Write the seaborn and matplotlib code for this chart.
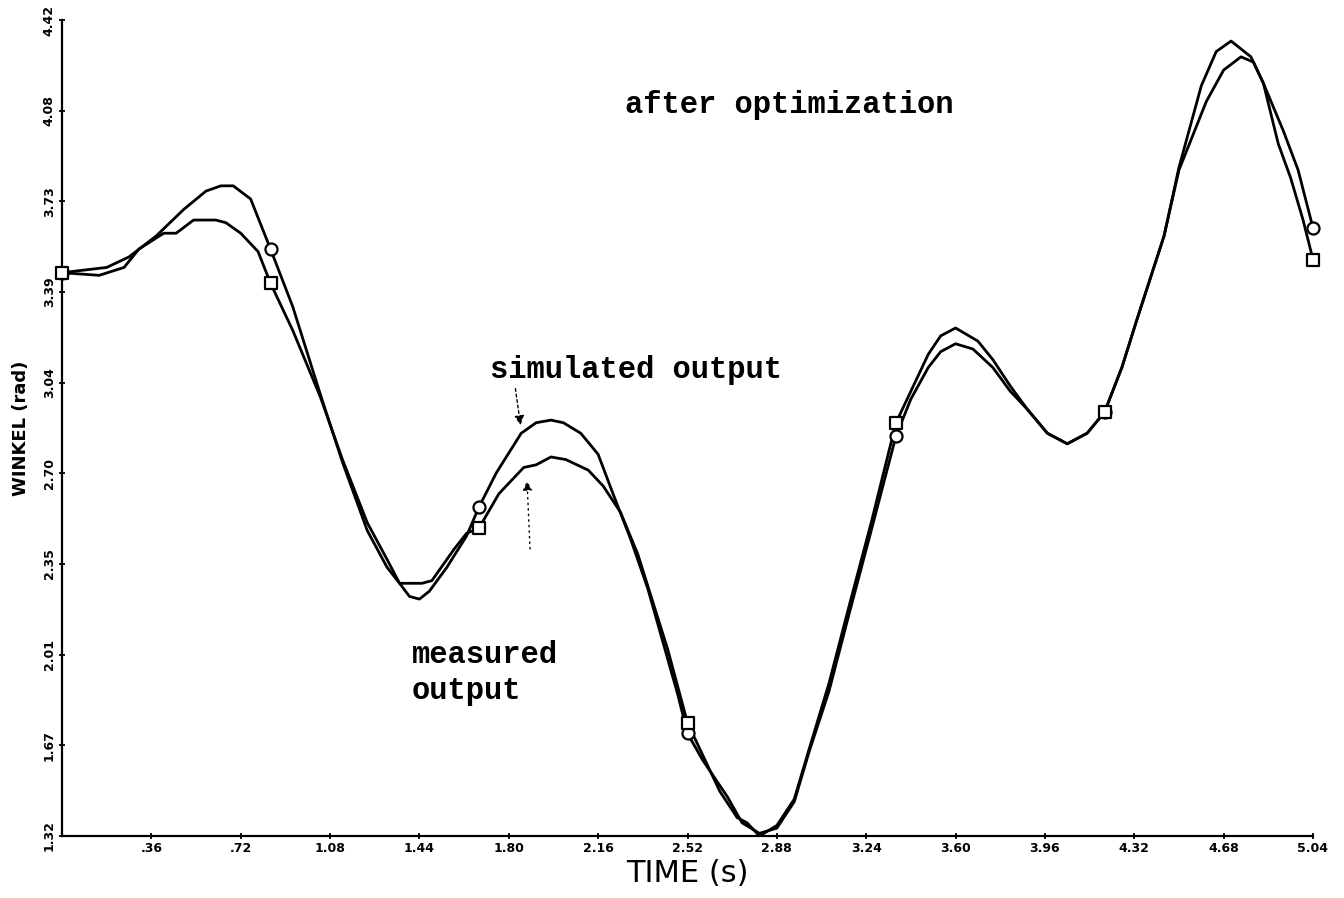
import numpy as np
import pandas as pd
import matplotlib
matplotlib.use("Agg")
import matplotlib.pyplot as plt
import seaborn as sns

# ---------------- data ----------------
sim_t = [0.00, 0.18, 0.27, 0.38, 0.49, 0.58, 0.64, 0.69, 0.76, 0.84,
         0.93, 1.04, 1.13, 1.23, 1.31, 1.36, 1.40, 1.44, 1.48, 1.55,
         1.63, 1.68, 1.75, 1.85, 1.91, 1.97, 2.02, 2.09, 2.16, 2.22,
         2.29, 2.36, 2.42, 2.48, 2.52, 2.58, 2.68, 2.74, 2.81, 2.88,
         2.95, 3.01, 3.09, 3.17, 3.26, 3.36, 3.42, 3.49, 3.54, 3.60,
         3.67, 3.75, 3.82, 3.89, 3.97, 4.05, 4.13, 4.20, 4.27, 4.33,
         4.44, 4.50, 4.61, 4.68, 4.75, 4.80, 4.84, 4.92, 4.98, 5.04]
sim_v = [3.46, 3.48, 3.52, 3.60, 3.70, 3.77, 3.79, 3.79, 3.74, 3.55,
         3.33, 3.00, 2.74, 2.48, 2.34, 2.28, 2.23, 2.22, 2.25, 2.34,
         2.46, 2.57, 2.70, 2.85, 2.89, 2.90, 2.89, 2.85, 2.77, 2.62,
         2.45, 2.26, 2.06, 1.86, 1.71, 1.61, 1.47, 1.37, 1.33, 1.35,
         1.45, 1.64, 1.87, 2.16, 2.48, 2.84, 2.98, 3.10, 3.16, 3.19,
         3.17, 3.10, 3.01, 2.94, 2.85, 2.81, 2.85, 2.93, 3.10, 3.28,
         3.60, 3.85, 4.11, 4.23, 4.28, 4.26, 4.18, 4.00, 3.85, 3.63]

meas_t = [0.00, 0.15, 0.25, 0.31, 0.41, 0.46, 0.53, 0.62, 0.66, 0.72,
          0.79, 0.84, 0.93, 1.04, 1.13, 1.23, 1.31, 1.36, 1.45, 1.49,
          1.58, 1.63, 1.68, 1.76, 1.86, 1.91, 1.97, 2.03, 2.12, 2.18,
          2.25, 2.32, 2.38, 2.44, 2.48, 2.52, 2.65, 2.72, 2.76, 2.78,
          2.81, 2.88, 2.95, 3.01, 3.09, 3.17, 3.26, 3.36, 3.42, 3.49,
          3.54, 3.60, 3.69, 3.75, 3.82, 3.89, 3.97, 4.05, 4.13, 4.20,
          4.27, 4.33, 4.44, 4.50, 4.59, 4.65, 4.71, 4.79, 4.84, 4.90,
          4.95, 5.00, 5.04]
meas_v = [3.46, 3.45, 3.48, 3.55, 3.61, 3.61, 3.66, 3.66, 3.65, 3.61,
          3.54, 3.42, 3.24, 2.99, 2.75, 2.51, 2.37, 2.28, 2.28, 2.29,
          2.41, 2.47, 2.49, 2.62, 2.72, 2.73, 2.76, 2.75, 2.71, 2.65,
          2.55, 2.39, 2.21, 2.03, 1.89, 1.75, 1.49, 1.39, 1.37, 1.35,
          1.32, 1.36, 1.46, 1.65, 1.90, 2.19, 2.51, 2.89, 3.01, 3.15,
          3.22, 3.25, 3.20, 3.13, 3.03, 2.94, 2.85, 2.81, 2.85, 2.93,
          3.10, 3.28, 3.60, 3.86, 4.17, 4.30, 4.34, 4.28, 4.18, 3.95,
          3.82, 3.66, 3.51]

marker_t = [0.00, 0.84, 1.68, 2.52, 3.36, 4.20, 5.04]
sim_marker_v = [3.46, 3.55, 2.57, 1.71, 2.84, 2.93, 3.63]
meas_marker_v = [3.46, 3.42, 2.49, 1.75, 2.89, 2.93, 3.51]

x_tick_labels = [".36", ".72", "1.08", "1.44", "1.80", "2.16", "2.52",
                 "2.88", "3.24", "3.60", "3.96", "4.32", "4.68", "5.04"]
y_tick_labels = ["1.32", "1.67", "2.01", "2.35", "2.70", "3.04",
                 "3.39", "3.73", "4.08", "4.42"]

x_label = "TIME (s)"
y_label = "WINKEL (rad)"
title_text = "after optimization"
sim_text = "simulated output"
meas_text = "measured\noutput"

# ---------------- figure ----------------
sns.set_style("ticks")
plt.rcParams["font.family"] = ["DejaVu Sans"]
for key in ["text.color", "axes.labelcolor", "xtick.color", "ytick.color",
            "axes.edgecolor"]:
    plt.rcParams[key] = "black"

fig = plt.figure(figsize=(13.44, 8.98), dpi=100)
ax = fig.add_axes([62 / 1344, 62 / 898, (1313 - 62) / 1344, (836 - 20) / 898])

sim_df = pd.DataFrame({"t": sim_t, "v": sim_v})
meas_df = pd.DataFrame({"t": meas_t, "v": meas_v})

sns.lineplot(data=sim_df, x="t", y="v", ax=ax, color="black", lw=2.0,
             sort=False, estimator=None, solid_joinstyle="round")
sns.lineplot(data=meas_df, x="t", y="v", ax=ax, color="black", lw=2.0,
             sort=False, estimator=None, solid_joinstyle="round")

sns.scatterplot(x=marker_t, y=sim_marker_v, ax=ax, marker="o", s=75,
                facecolor="white", edgecolor="black", linewidth=1.6,
                zorder=5, clip_on=False)
sns.scatterplot(x=marker_t, y=meas_marker_v, ax=ax, marker="s", s=65,
                facecolor="white", edgecolor="black", linewidth=1.6,
                zorder=5, clip_on=False)

ax.set_xlim(0, 5.04)
ax.set_ylim(1.32, 4.42)

xt = np.arange(1, len(x_tick_labels) + 1) * 0.36
ax.set_xticks(xt)
ax.set_xticklabels(x_tick_labels, fontsize=9, fontweight="bold")
yt = np.linspace(1.32, 4.42, len(y_tick_labels))
ax.set_yticks(yt)
ax.set_yticklabels(y_tick_labels, fontsize=9, fontweight="bold",
                   rotation=90, va="center")
ax.tick_params(axis="both", direction="inout", length=5, width=1.3,
               color="black", pad=2)

for side in ["top", "right"]:
    ax.spines[side].set_visible(False)
for side in ["left", "bottom"]:
    ax.spines[side].set_linewidth(1.6)
    ax.spines[side].set_color("black")

ax.set_xlabel(x_label, fontsize=22, labelpad=3)
ax.set_ylabel(y_label, fontsize=13, fontweight="bold", labelpad=9)

mono = ["Liberation Mono", "DejaVu Sans Mono"]
ax.text(2.268, 4.097, title_text, family=mono, fontsize=22,
        fontweight="bold", va="center", ha="left")
ax.text(1.724, 3.09, sim_text, family=mono, fontsize=22,
        fontweight="bold", va="center", ha="left")
ax.text(1.41, 1.94, meas_text, family=mono, fontsize=22,
        fontweight="bold", va="center", ha="left", linespacing=1.25)

ax.annotate("", xy=(1.849, 2.87), xytext=(1.825, 3.03),
            arrowprops=dict(arrowstyle="-|>", color="black", lw=1.0,
                            linestyle=(0, (2, 2)), mutation_scale=14))
ax.annotate("", xy=(1.873, 2.68), xytext=(1.886, 2.40),
            arrowprops=dict(arrowstyle="-|>", color="black", lw=1.0,
                            linestyle=(0, (1, 3)), mutation_scale=14))

fig.savefig("out.png", dpi=100, facecolor="white")
